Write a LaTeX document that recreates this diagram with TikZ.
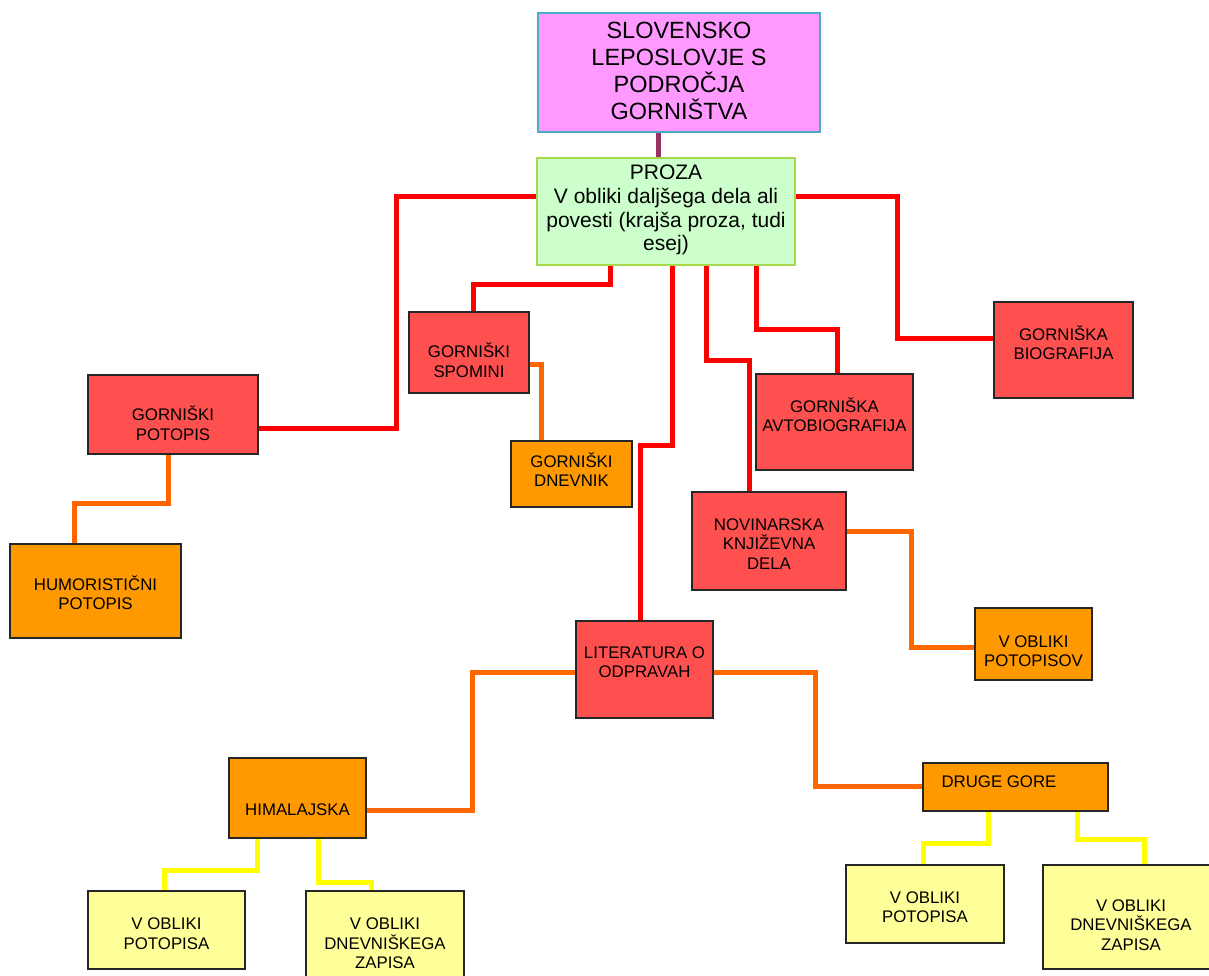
\documentclass[tikz,border=0pt]{standalone}
\usepackage{fontspec}
\setmainfont{Liberation Sans}
\usetikzlibrary{fit,backgrounds}
\definecolor{cTitle}{HTML}{FF99FF}
\definecolor{cTitleB}{HTML}{4AACC5}
\definecolor{cProza}{HTML}{CCFFCC}
\definecolor{cProzaB}{HTML}{A6D84A}
\definecolor{cRed}{HTML}{FF5050}
\definecolor{cOrange}{HTML}{FF9900}
\definecolor{cYellow}{HTML}{FFFF99}
\definecolor{lRed}{HTML}{FF0000}
\definecolor{lOrange}{HTML}{FF6600}
\definecolor{lYellow}{HTML}{FFFF00}
\definecolor{lPurple}{HTML}{993366}
\begin{document}
\begin{tikzpicture}[x=1pt,y=-1pt,
  box/.style={draw=black!85, line width=1.1pt, inner sep=0pt, rectangle},
  redbox/.style={box, fill=cRed},
  orbox/.style={box, fill=cOrange},
  yebox/.style={box, fill=cYellow},
  txt/.style={font=\fontsize{16.8}{19.5}\selectfont, align=center, text=black, inner sep=0pt},
  conn/.style={line width=5pt, line join=miter},
  redln/.style={conn, draw=lRed},
  orln/.style={conn, draw=lOrange},
  yeln/.style={conn, draw=lYellow}]
\useasboundingbox (0,0) rectangle (1209,976);
\clip (0,0) rectangle (1209,976);

% title and proza
\node[box, draw=cTitleB, line width=1.4pt, fill=cTitle, fit={(538,13)(820,132)},
  label={[txt, font=\fontsize{23.5}{27}\selectfont, yshift=2pt]center:{SLOVENSKO\\LEPOSLOVJE S\\PODROČJA\\GORNIŠTVA}}] (title) {};
\node[box, draw=cProzaB, line width=1.4pt, fill=cProza, fit={(537,158)(795,265)},
  label={[txt, font=\fontsize{21}{23.8}\selectfont, yshift=1.5pt]center:{PROZA\\V obliki daljšega dela ali\\povesti (krajša proza, tudi\\esej)}}] (proza) {};

% red boxes
\node[redbox, fit={(88,375)(258,454)}, label={[txt,yshift=-8.5pt]center:{GORNIŠKI\\POTOPIS}}] (potopis) {};
\node[redbox, fit={(409,312)(529,393)}, label={[txt,yshift=-7.5pt]center:{GORNIŠKI\\SPOMINI}}] (spomini) {};
\node[redbox, fit={(756,374)(913,470)}, label={[txt,yshift=7.5pt]center:{GORNIŠKA\\AVTOBIOGRAFIJA}}] (avtobio) {};
\node[redbox, fit={(994,302)(1133,398)}, label={[txt,yshift=7.5pt]center:{GORNIŠKA\\BIOGRAFIJA}}] (bio) {};
\node[redbox, fit={(692,492)(846,590)}, label={[txt,yshift=-3pt]center:{NOVINARSKA\\KNJIŽEVNA\\DELA}}] (novinarska) {};
\node[redbox, fit={(576,621)(713,718)}, label={[txt,yshift=7.5pt]center:{LITERATURA O\\ODPRAVAH}}] (literatura) {};

% orange boxes
\node[orbox, fit={(10,544)(181,638)}, label={[txt,yshift=-1.5pt]center:{HUMORISTIČNI\\POTOPIS}}] (humor) {};
\node[orbox, fit={(511,441)(632,507)}, label={[txt,yshift=4.5pt]center:{GORNIŠKI\\DNEVNIK}}] (dnevnik) {};
\node[orbox, fit={(975,608)(1092,680)}, label={[txt,yshift=-7pt]center:{V OBLIKI\\POTOPISOV}}] (vop) {};
\node[orbox, fit={(229,758)(366,838)}, label={[txt,yshift=-12pt]center:{HIMALAJSKA}}] (himal) {};
\node[orbox, fit={(923,763)(1108,811)}, label={[txt,yshift=5pt,xshift=-16.5pt]center:{DRUGE GORE}}] (druge) {};

% yellow boxes
\node[yebox, fit={(88,891)(245,969)}, label={[txt,yshift=-3.5pt]center:{V OBLIKI\\POTOPISA}}] (vpl) {};
\node[yebox, fit={(306,891)(464,996)}, label={[txt]center:{V OBLIKI\\DNEVNIŠKEGA\\ZAPISA}}] (vdl) {};
\node[yebox, fit={(846,865)(1004,943)}, label={[txt,yshift=-3pt]center:{V OBLIKI\\POTOPISA}}] (vpr) {};
\node[yebox, fit={(1043,865)(1219,969)}, label={[txt,yshift=-8pt]center:{V OBLIKI\\DNEVNIŠKEGA\\ZAPISA}}] (vdr) {};

\begin{pgfonlayer}{background}
\fill[white] (0,0) rectangle (1209,976);
% purple
\draw[conn, draw=lPurple] (658,0 |- title.south) -- (658,0 |- proza.north);
% red
\draw[redln] (proza.west |- 0,197) -| (396,428) -- (potopis.east |- 0,428);
\draw[redln] (610,0 |- proza.south) |- (473,284) -- (473,0 |- spomini.north);
\draw[redln] (672,0 |- proza.south) |- (640,445) -- (640,0 |- literatura.north);
\draw[redln] (706,0 |- proza.south) |- (749,360) -- (749,0 |- novinarska.north);
\draw[redln] (756,0 |- proza.south) |- (837,329) -- (837,0 |- avtobio.north);
\draw[redln] (proza.east |- 0,197) -| (897,338) -- (bio.west |- 0,338);
% orange
\draw[orln] (168,0 |- potopis.south) |- (74,503) -- (74,0 |- humor.north);
\draw[orln] (spomini.east |- 0,364) -| (541,0 |- dnevnik.north);
\draw[orln] (novinarska.east |- 0,531) -| (911,647) -- (vop.west |- 0,647);
\draw[orln] (literatura.east |- 0,672) -| (815,786) -- (druge.west |- 0,786);
\draw[orln] (literatura.west |- 0,672) -| (472,810) -- (himal.east |- 0,810);
% yellow
\draw[yeln] (257,0 |- himal.south) |- (164,870) -- (164,0 |- vpl.north);
\draw[yeln] (318,0 |- himal.south) |- (371,882) -- (371,0 |- vdl.north);
\draw[yeln] (988,0 |- druge.south) |- (923,843) -- (923,0 |- vpr.north);
\draw[yeln] (1077,0 |- druge.south) |- (1144,839) -- (1144,0 |- vdr.north);
\end{pgfonlayer}
\end{tikzpicture}
\end{document}
